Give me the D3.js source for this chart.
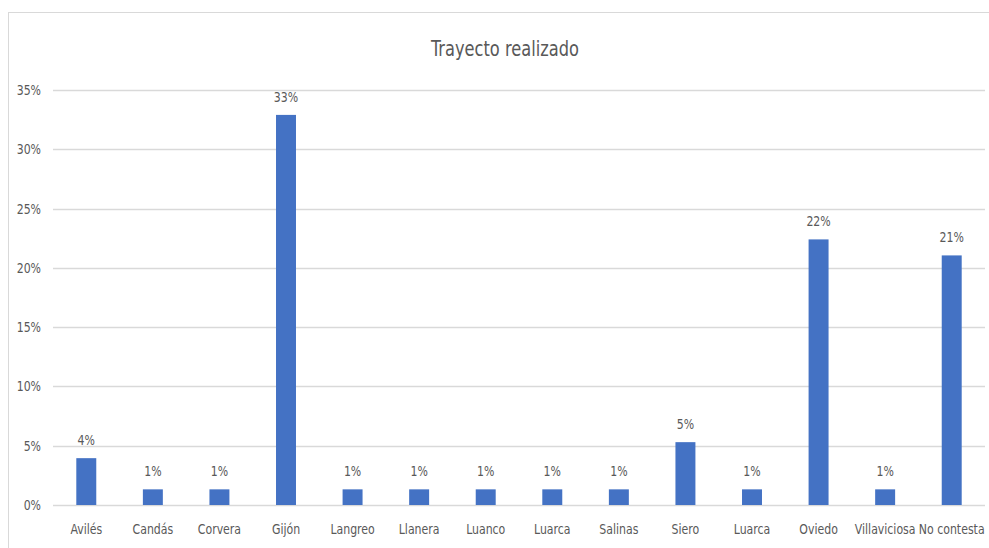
<!DOCTYPE html>
<html>
<head>
<meta charset="utf-8">
<script src="https://cdn.jsdelivr.net/npm/d3@7"></script>
<style>
  body { margin: 0; background: #fff; }
  #chart { width: 989px; height: 548px; }
  text { font-family: "DejaVu Sans Condensed", "Liberation Sans Narrow", sans-serif; fill: #595959; }
</style>
</head>
<body>
<div id="chart"></div>
<script>
const categories = ['Avilés', 'Candás', 'Corvera', 'Gijón', 'Langreo', 'Llanera', 'Luanco',
  'Luarca', 'Salinas', 'Siero', 'Luarca ', 'Oviedo', 'Villaviciosa', 'No contesta'];
const values = [3.95, 1.32, 1.32, 32.9, 1.32, 1.32, 1.32, 1.32, 1.32, 5.3, 1.32, 22.4, 1.32, 21.05];
const yTicks = [0, 5, 10, 15, 20, 25, 30, 35];

const margin = { top: 90, right: 4, bottom: 43, left: 53 };
const width = 989, height = 548;
const contentWidth = width - margin.left - margin.right;
const contentHeight = height - margin.top - margin.bottom;
const squeeze = 0.84; // narrow the text like Calibri

const svg = d3.select('#chart').append('svg')
  .attr('width', width)
  .attr('height', height);

// chart frame
svg.append('rect')
  .attr('x', 8.5).attr('y', 12.5)
  .attr('width', 1000).attr('height', 600)
  .attr('fill', 'none')
  .attr('stroke', '#d9d9d9');

svg.append('text')
  .attr('transform', `translate(505, 56) scale(${squeeze}, 1)`)
  .attr('text-anchor', 'middle')
  .style('font-size', '21.5px')
  .text('Trayecto realizado');

const g = svg.append('g')
  .attr('transform', `translate(${margin.left}, ${margin.top})`);

const x = d3.scaleBand().domain(d3.range(categories.length))
  .range([0, contentWidth]).paddingInner(0.7).paddingOuter(0.35);
const y = d3.scaleLinear().domain([0, 35]).range([contentHeight, 0]);

// gridlines
g.selectAll('.grid').data(yTicks).enter().append('line')
  .attr('x1', 0).attr('x2', contentWidth)
  .attr('y1', d => Math.round(y(d)) + 0.5).attr('y2', d => Math.round(y(d)) + 0.5)
  .attr('stroke', '#d9d9d9').attr('stroke-width', 1.3);

g.selectAll('.ylab').data(yTicks).enter().append('text')
  .attr('transform', d => `translate(-12, ${y(d) + 5}) scale(${squeeze}, 1)`)
  .attr('text-anchor', 'end')
  .style('font-size', '14.5px')
  .text(d => d + '%');

g.selectAll('.bar').data(values).enter().append('rect')
  .attr('x', (d, i) => x(i))
  .attr('y', d => y(d))
  .attr('width', x.bandwidth())
  .attr('height', d => contentHeight - y(d))
  .attr('fill', '#4472c4');

g.selectAll('.vlab').data(values).enter().append('text')
  .attr('transform', (d, i) => `translate(${x(i) + x.bandwidth() / 2}, ${y(d) - 13}) scale(${squeeze}, 1)`)
  .attr('text-anchor', 'middle')
  .style('font-size', '14.5px')
  .text(d => Math.round(d) + '%');

g.selectAll('.xlab').data(categories).enter().append('text')
  .attr('transform', (d, i) => `translate(${x(i) + x.bandwidth() / 2}, ${contentHeight + 29}) scale(${squeeze}, 1)`)
  .attr('text-anchor', 'middle')
  .style('font-size', '14.5px')
  .text(d => d.trim());
</script>
</body>
</html>
